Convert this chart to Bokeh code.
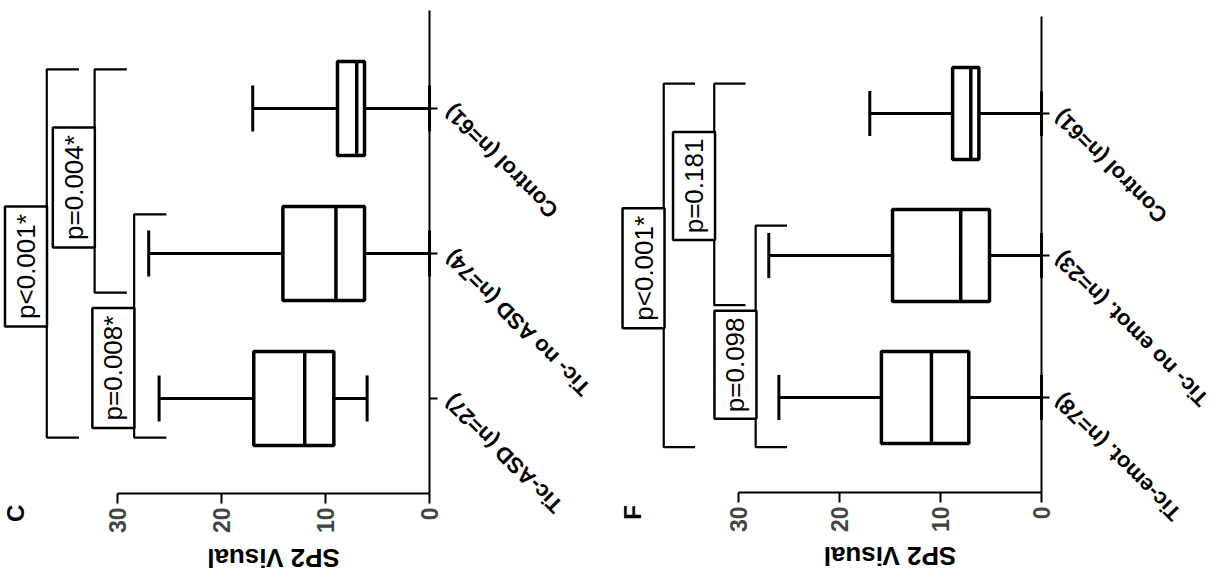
import math
from bokeh.plotting import figure
from bokeh.models import Range1d, LinearAxis, FixedTicker, ColumnDataSource
from bokeh.layouts import row
from bokeh.core.properties import value
from bokeh.embed import file_html
from bokeh.resources import INLINE

# ---------------- data ----------------
value_ticks = [0, 10, 20, 30]
axis_title = "SP2 Visual"

c_letter = "C"
c_cats = ["Tic-ASD (n=27)", "Tic- no ASD (n=74)", "Control (n=61)"]
c_min = [6.0, 0.0, 0.0]
c_q1 = [9.2, 6.25, 6.25]
c_med = [12.0, 9.0, 7.0]
c_q3 = [16.9, 14.1, 8.85]
c_max = [26.0, 27.0, 17.0]
c_p_text = ["p<0.001*", "p=0.004*", "p=0.008*"]
c_p_from = [0, 1, 0]
c_p_to = [2, 2, 1]

f_letter = "F"
f_cats = ["Tic-emot. (n=78)", "Tic- no emot. (n=23)", "Control (n=61)"]
f_min = [0.0, 0.0, 0.0]
f_q1 = [7.2, 5.15, 6.2]
f_med = [10.9, 8.0, 7.0]
f_q3 = [15.85, 14.75, 8.8]
f_max = [26.0, 27.0, 17.0]
f_p_text = ["p<0.001*", "p=0.181", "p=0.098"]
f_p_from = [0, 1, 0]
f_p_to = [2, 2, 1]

# ---------------- layout / style ----------------
FONT = "Liberation Sans"
W, H = 610, 585

c_layout = dict(xr=(41.25, -17.4), yr=(-1.29, 2.745), vaxis_y=-0.655, caxis_top=2.676,
                br_level=[36.8, 32.2, 28.4], br_top=0.27, br_bot=0.27,
                box_cy=[0.91, 1.455, 0.21], box_h=[120, 120, 120],
                title_y=-1.103, letter_xy=(39.8, -0.793), lab_x=-1.8)
f_layout = dict(xr=(42.67, -17.72), yr=(-1.324, 2.796), vaxis_y=-0.669, caxis_top=2.683,
                br_level=[37.4, 32.4, 28.3], br_top=0.21, br_bot=0.35,
                box_cy=[0.91, 1.49, 0.23], box_h=[120, 108, 108],
                title_y=-1.113, letter_xy=(40.5, -0.81), lab_x=-1.6)


def make_panel(letter, cats, mins, q1, med, q3, maxs, p_text, p_from, p_to, L):
    p = figure(width=W, height=H, x_range=Range1d(*L["xr"]), y_range=Range1d(*L["yr"]),
               output_backend="svg", toolbar_location=None,
               x_axis_type=None, y_axis_type=None, min_border=0)
    p.outline_line_color = None
    p.xgrid.visible = False
    p.ygrid.visible = False
    p.background_fill_color = "white"
    p.border_fill_color = "white"

    pos = list(range(len(cats)))
    half = 0.324
    cap = 0.159
    src = ColumnDataSource(dict(pos=pos, mn=mins, q1=q1, med=med, q3=q3, mx=maxs,
                                lo=[v - half for v in pos], hi=[v + half for v in pos],
                                clo=[v - cap for v in pos], chi=[v + cap for v in pos]))
    # whiskers
    p.segment(x0="mn", y0="pos", x1="q1", y1="pos", source=src, line_width=3, line_color="black")
    p.segment(x0="q3", y0="pos", x1="mx", y1="pos", source=src, line_width=3, line_color="black")
    p.segment(x0="mn", y0="clo", x1="mn", y1="chi", source=src, line_width=3, line_color="black")
    p.segment(x0="mx", y0="clo", x1="mx", y1="chi", source=src, line_width=3, line_color="black")
    # boxes
    p.quad(left="q3", right="q1", bottom="lo", top="hi", source=src,
           fill_color="white", line_color="black", line_width=3.5)
    p.segment(x0="med", y0="lo", x1="med", y1="hi", source=src, line_width=3.5, line_color="black")

    # value axis
    vax = LinearAxis(ticker=FixedTicker(ticks=value_ticks), fixed_location=L["vaxis_y"],
                     bounds=(0, 30))
    vax.axis_line_width = 2
    vax.major_tick_line_width = 2
    vax.major_tick_out = 10
    vax.major_tick_in = 0
    vax.minor_tick_line_color = None
    vax.major_label_orientation = math.pi / 2
    vax.major_label_text_font = FONT
    vax.major_label_text_font_style = "bold"
    vax.major_label_text_font_size = "23px"
    vax.major_label_standoff = 4
    p.add_layout(vax, "below")

    # category axis
    cax = LinearAxis(ticker=FixedTicker(ticks=pos), fixed_location=0,
                     bounds=(L["vaxis_y"], L["caxis_top"]))
    cax.axis_line_width = 2
    cax.major_tick_line_width = 2
    cax.major_tick_out = 8
    cax.major_tick_in = 0
    cax.minor_tick_line_color = None
    cax.major_label_text_color = None
    p.add_layout(cax, "right")

    # category labels
    p.text(x=[L["lab_x"]] * len(cats), y=pos, text=cats, angle=3 * math.pi / 4,
           text_align="right", text_baseline="middle",
           text_font=value(FONT), text_font_style="bold", text_font_size="22px", text_color="black")

    # axis title and panel letter
    p.text(x=[15], y=[L["title_y"]], text=[axis_title], angle=math.pi,
           text_align="center", text_baseline="middle",
           text_font=value(FONT), text_font_style="bold", text_font_size="26px")
    p.text(x=[L["letter_xy"][0]], y=[L["letter_xy"][1]], text=[letter], angle=math.pi / 2,
           text_align="center", text_baseline="middle",
           text_font=value(FONT), text_font_style="bold", text_font_size="24px")

    # significance brackets
    stub = 3.1
    for i, (t, a, b) in enumerate(zip(p_text, p_from, p_to)):
        lv = L["br_level"][i]
        y0 = a - L["br_bot"]
        y1 = b + L["br_top"]
        p.line(x=[lv - stub, lv, lv, lv - stub], y=[y0, y0, y1, y1], line_width=2.2, line_color="black")
        cx = lv + 2.0
        cy = L["box_cy"][i]
        p.rect(x=[cx], y=[cy], width=[42], height=[L["box_h"][i]], width_units="screen",
               height_units="screen", fill_color="white", line_color="black", line_width=2.5)
        p.text(x=[cx], y=[cy], text=[t], angle=math.pi / 2, text_align="center",
               text_baseline="middle", text_font=value(FONT), text_font_size="26px")
    return p


pc = make_panel(c_letter, c_cats, c_min, c_q1, c_med, c_q3, c_max, c_p_text, c_p_from, c_p_to, c_layout)
pf = make_panel(f_letter, f_cats, f_min, f_q1, f_med, f_q3, f_max, f_p_text, f_p_from, f_p_to, f_layout)

layout = row(pc, pf, spacing=0)
open("out.html", "w").write(file_html(layout, INLINE))
